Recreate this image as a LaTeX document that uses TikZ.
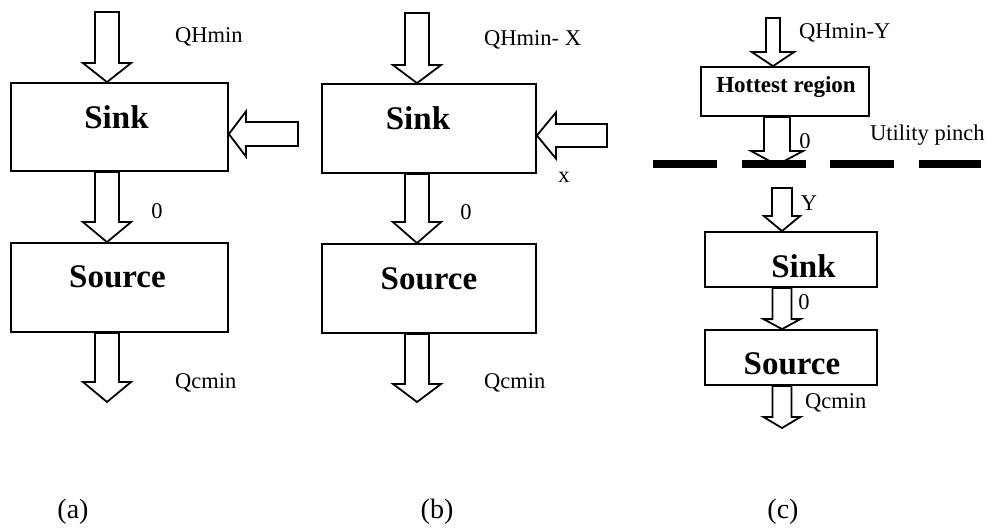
\documentclass[tikz,border=0pt]{standalone}
\usepackage{fontspec}
\setmainfont{Liberation Serif}
\usetikzlibrary{calc}
\newcommand{\boxline}{1.8pt}

% hollow block arrow pointing down: tail, tip, shaft half width, head half width, head length
\newcommand{\fatdown}[5]{%
  \draw[fatarrow] let \p1=#1, \p2=#2 in
    (\x1-#3pt,\y1) -- (\x1+#3pt,\y1) -- (\x1+#3pt,\y2+#5pt) -- (\x1+#4pt,\y2+#5pt)
    -- (\x1,\y2) -- (\x1-#4pt,\y2+#5pt) -- (\x1-#3pt,\y2+#5pt) -- cycle;}
% hollow block arrow pointing left
\newcommand{\fatleft}[5]{%
  \draw[fatarrow] let \p1=#1, \p2=#2 in
    (\x1,\y1+#3pt) -- (\x2+#5pt,\y1+#3pt) -- (\x2+#5pt,\y1+#4pt) -- (\x2,\y1)
    -- (\x2+#5pt,\y1-#4pt) -- (\x2+#5pt,\y1-#3pt) -- (\x1,\y1-#3pt) -- cycle;}

\begin{document}
\begin{tikzpicture}[x=1pt,y=-1pt,
    block/.style={draw, line width=\boxline, inner sep=0pt},
    fatarrow/.style={draw, line width=\boxline, line join=miter},
    bigtext/.style={font=\fontsize{33}{36}\selectfont\bfseries},
    midtext/.style={font=\fontsize{23}{26}\selectfont\bfseries},
    flow/.style={font=\fontsize{22.5}{25}\selectfont, inner sep=0pt},
    caption/.style={font=\fontsize{28}{30}\selectfont, inner sep=0pt},
    pinch/.style={line width=7.5pt, dash pattern=on 64pt off 24.5pt}]

        \useasboundingbox (0,0) rectangle (995,529);

          % (a)
        \node[block, minimum width=217pt, minimum height=88pt] (sinkA) at (119.5,127) {};
        \node[block, minimum width=217pt, minimum height=89pt] (sourceA) at (119.5,287.5) {};
        \node[bigtext] (sinkAtext) at (116.5,117) {Sink};
        \node[bigtext] (sourceAtext) at (117.5,277) {Source};
        \coordinate (aIn) at (107,12);
        \coordinate (aOut) at (107,402);
        \coordinate (aSide) at (298,134);

        \fatdown{(aIn)}{(aIn |- sinkA.north)}{12}{24}{19}
        \fatleft{(aSide)}{(sinkA.east |- aSide)}{12}{22.5}{17}
        \fatdown{(aIn |- sinkA.south)}{(aIn |- sourceA.north)}{12}{24}{20}
        \fatdown{(aIn |- sourceA.south)}{(aOut)}{12}{24}{20}

        \node[flow, anchor=west] (qhA) at (175,37) {QHmin};
        \node[flow] (zeroA) at (157,211) {0};
        \node[flow, anchor=west] (qcA) at (175,383) {Qcmin};
        \node[caption] (capA) at (73,512) {(a)};

          % (b)
        \node[block, minimum width=214pt, minimum height=89pt] (sinkB) at (429,128.5) {};
        \node[block, minimum width=214pt, minimum height=89pt] (sourceB) at (429,288.5) {};
        \node[bigtext] (sinkBtext) at (418,118) {Sink};
        \node[bigtext] (sourceBtext) at (429,279) {Source};
        \coordinate (bIn) at (417,13);
        \coordinate (bOut) at (417,402);
        \coordinate (bSide) at (607,135.5);

        \fatdown{(bIn)}{(bIn |- sinkB.north)}{12}{24}{18}
        \fatleft{(bSide)}{(sinkB.east |- bSide)}{11.5}{23}{19}
        \fatdown{(bIn |- sinkB.south)}{(bIn |- sourceB.north)}{12}{24}{21}
        \fatdown{(bIn |- sourceB.south)}{(bOut)}{12}{24}{18}

        \node[flow, anchor=west] (qhB) at (484,40) {QHmin- X};
        \node[flow] (xB) at (564,177) {x};
        \node[flow] (zeroB) at (466,212) {0};
        \node[flow, anchor=west] (qcB) at (484,383) {Qcmin};
        \node[caption] (capB) at (437,512) {(b)};

          % (c)
        \node[block, minimum width=168pt, minimum height=49pt] (hot) at (785,91.5) {};
        \node[block, minimum width=172pt, minimum height=55pt] (sinkC) at (791,259.5) {};
        \node[block, minimum width=172pt, minimum height=55pt] (sourceC) at (791,357.5) {};
        \node[midtext] (hottext) at (786,87) {Hottest region};
        \node[bigtext] (sinkCtext) at (803.5,266) {Sink};
        \node[bigtext] (sourceCtext) at (792,363.5) {Source};
        \coordinate (cIn) at (773,18);
        \coordinate (cPin) at (777,165);
        \coordinate (cY) at (782,188);
        \coordinate (cOut) at (782,428);
        \coordinate (pinchL) at (653,164);
        \coordinate (pinchR) at (981,164);

        \fatdown{(cIn)}{(cIn |- hot.north)}{7}{21}{14}
        \fatdown{(cPin |- hot.south)}{(cPin)}{13}{26}{14}
        \fatdown{(cY)}{(cY |- sinkC.north)}{10}{18}{15}
        \fatdown{(cY |- sinkC.south)}{(cY |- sourceC.north)}{9.5}{18.5}{10}
        \fatdown{(cY |- sourceC.south)}{(cOut)}{9.5}{18.5}{11}
        \draw[pinch] (pinchL) -- (pinchR);

        \node[flow, anchor=west] (qhC) at (799,33) {QHmin-Y};
        \node[flow] (zeroC) at (805,141) {0};
        \node[flow, anchor=west] (pinchtext) at (870,135) {Utility pinch};
        \node[flow] (yC) at (809,203) {Y};
        \node[flow] (zeroCC) at (804,302) {0};
        \node[flow, anchor=west] (qcC) at (805,403) {Qcmin};
        \node[caption] (capC) at (783,512) {(c)};

\end{tikzpicture}
\end{document}
